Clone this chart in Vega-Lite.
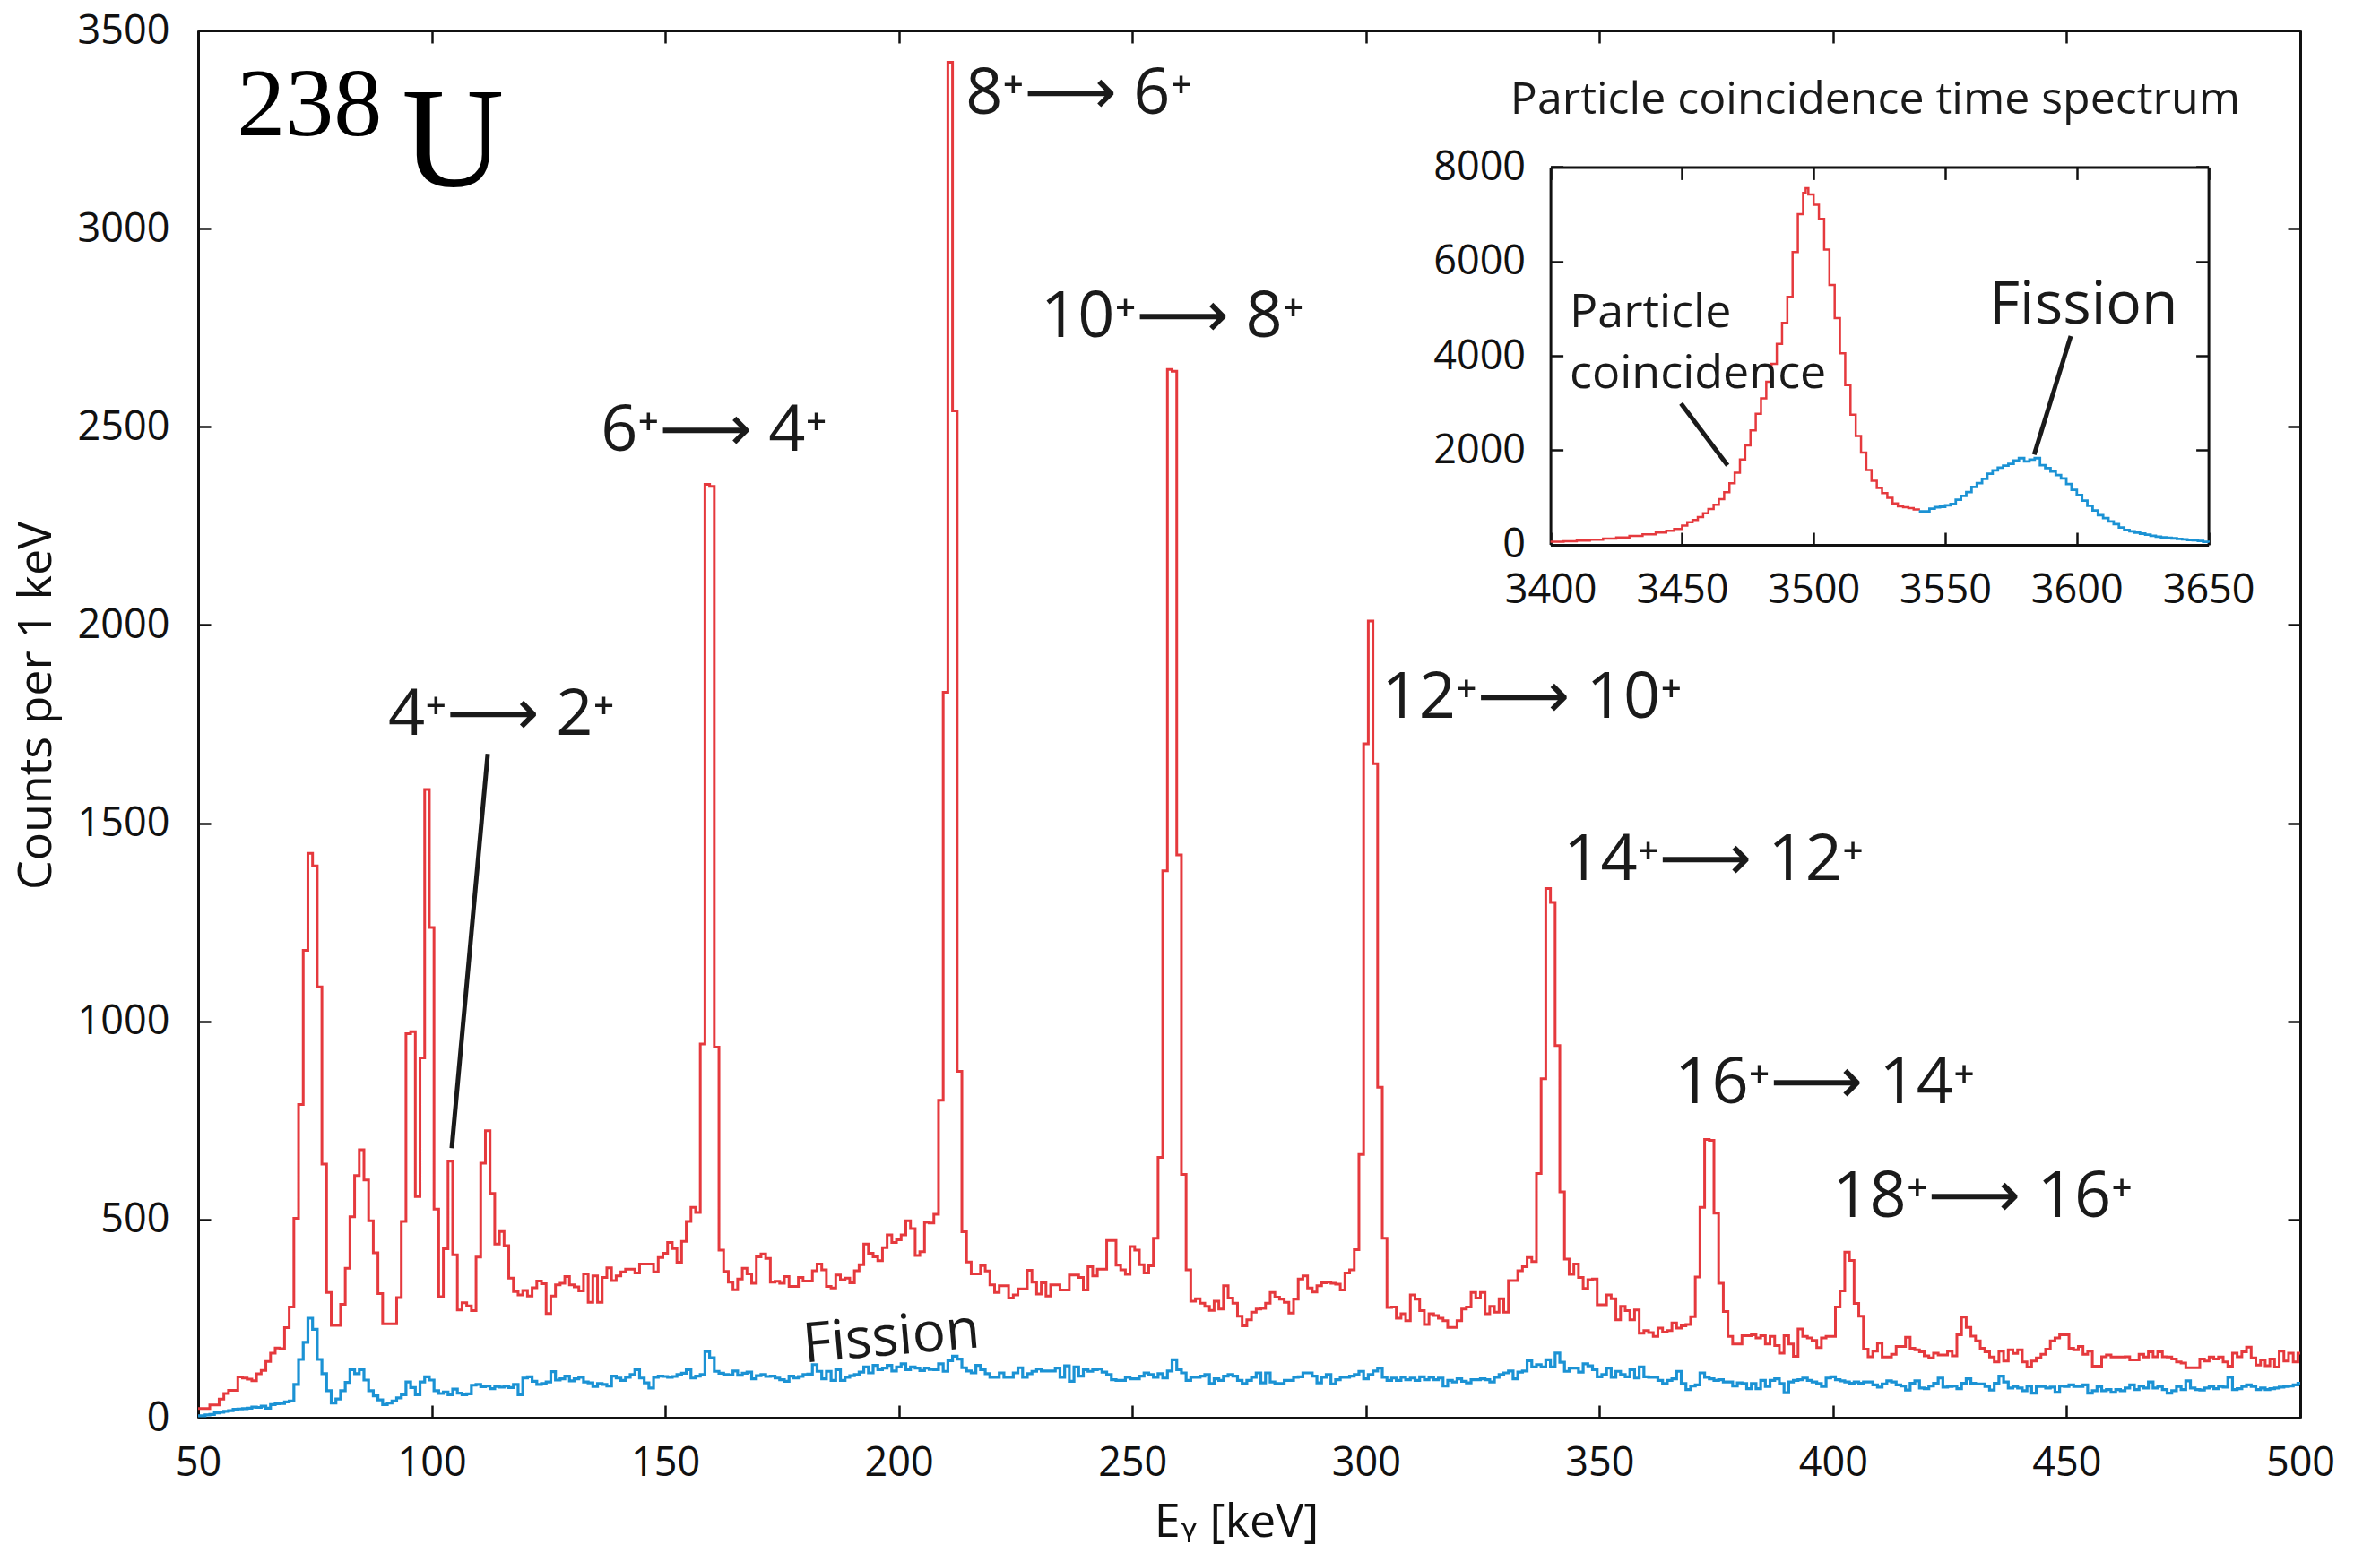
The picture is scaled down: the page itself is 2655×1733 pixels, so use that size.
{
"$schema": "https://vega.github.io/schema/vega-lite/v6.json",
"autosize": {"type": "none"},
"padding": {"left": 221, "top": 34, "right": 89, "bottom": 151},
"width": 2345, "height": 1548,
"background": "white",
"config": {
 "view": {"stroke": null},
 "axis": {"labelFont": "Open Sans, DejaVu Sans", "titleFont": "Open Sans, DejaVu Sans", "labelFontSize": 45, "titleFontSize": 52, "titleFontWeight": "normal", "labelColor": "#111", "titleColor": "#111", "domainColor": "#111", "tickColor": "#111", "domainWidth": 3, "tickWidth": 2.5, "grid": false, "tickSize": -14, "labelFlush": false, "labelOverlap": false, "labelBound": false, "format": "d"}
},
"datasets": {
"main": [
{"e":49.5,"r":23,"f":5},{"e":50.5,"r":23,"f":5},{"e":51.5,"r":23,"f":7},{"e":52.5,"r":32,"f":8},{"e":53.5,"r":32,"f":12},{"e":54.5,"r":47,"f":14},{"e":55.5,"r":61,"f":16},{"e":56.5,"r":69,"f":18},{"e":57.5,"r":69,"f":21},{"e":58.5,"r":103,"f":22},
{"e":59.5,"r":100,"f":23},{"e":60.5,"r":97,"f":24},{"e":61.5,"r":93,"f":27},{"e":62.5,"r":111,"f":26},{"e":63.5,"r":119,"f":29},{"e":64.5,"r":142,"f":24},{"e":65.5,"r":163,"f":33},{"e":66.5,"r":176,"f":35},{"e":67.5,"r":174,"f":36},{"e":68.5,"r":227,"f":40},
{"e":69.5,"r":279,"f":42},{"e":70.5,"r":503,"f":84},{"e":71.5,"r":790,"f":147},{"e":72.5,"r":1179,"f":190},{"e":73.5,"r":1424,"f":251},{"e":74.5,"r":1392,"f":223},{"e":75.5,"r":1087,"f":147},{"e":76.5,"r":640,"f":111},{"e":77.5,"r":316,"f":68},{"e":78.5,"r":233,"f":37},
{"e":79.5,"r":233,"f":47},{"e":80.5,"r":286,"f":68},{"e":81.5,"r":377,"f":89},{"e":82.5,"r":507,"f":121},{"e":83.5,"r":611,"f":111},{"e":84.5,"r":676,"f":121},{"e":85.5,"r":600,"f":95},{"e":86.5,"r":497,"f":68},{"e":87.5,"r":416,"f":55},{"e":88.5,"r":313,"f":45},
{"e":89.5,"r":237,"f":33},{"e":90.5,"r":237,"f":37},{"e":91.5,"r":237,"f":42},{"e":92.5,"r":303,"f":50},{"e":93.5,"r":495,"f":58},{"e":94.5,"r":969,"f":90},{"e":95.5,"r":974,"f":76},{"e":96.5,"r":558,"f":58},{"e":97.5,"r":908,"f":90},{"e":98.5,"r":1585,"f":103},
{"e":99.5,"r":1237,"f":95},{"e":100.5,"r":526,"f":68},{"e":101.5,"r":305,"f":61},{"e":102.5,"r":426,"f":65},{"e":103.5,"r":647,"f":58},{"e":104.5,"r":411,"f":72},{"e":105.5,"r":272,"f":62},{"e":106.5,"r":290,"f":58},{"e":107.5,"r":282,"f":60},{"e":108.5,"r":270,"f":82},
{"e":109.5,"r":405,"f":84},{"e":110.5,"r":642,"f":78},{"e":111.5,"r":724,"f":80},{"e":112.5,"r":566,"f":73},{"e":113.5,"r":438,"f":79},{"e":114.5,"r":470,"f":77},{"e":115.5,"r":434,"f":80},{"e":116.5,"r":352,"f":76},{"e":117.5,"r":318,"f":84},{"e":118.5,"r":310,"f":58},
{"e":119.5,"r":321,"f":100},{"e":120.5,"r":307,"f":103},{"e":121.5,"r":328,"f":92},{"e":122.5,"r":345,"f":84},{"e":123.5,"r":338,"f":86},{"e":124.5,"r":263,"f":90},{"e":125.5,"r":307,"f":116},{"e":126.5,"r":335,"f":95},{"e":127.5,"r":339,"f":98},{"e":128.5,"r":356,"f":105},
{"e":129.5,"r":335,"f":93},{"e":130.5,"r":330,"f":98},{"e":131.5,"r":320,"f":102},{"e":132.5,"r":363,"f":90},{"e":133.5,"r":291,"f":88},{"e":134.5,"r":358,"f":79},{"e":135.5,"r":291,"f":86},{"e":136.5,"r":354,"f":84},{"e":137.5,"r":378,"f":80},{"e":138.5,"r":346,"f":105},
{"e":139.5,"r":358,"f":100},{"e":140.5,"r":368,"f":94},{"e":141.5,"r":375,"f":102},{"e":142.5,"r":375,"f":109},{"e":143.5,"r":365,"f":121},{"e":144.5,"r":388,"f":100},{"e":145.5,"r":388,"f":88},{"e":146.5,"r":388,"f":75},{"e":147.5,"r":368,"f":102},{"e":148.5,"r":404,"f":105},
{"e":149.5,"r":415,"f":104},{"e":150.5,"r":442,"f":102},{"e":151.5,"r":427,"f":104},{"e":152.5,"r":392,"f":109},{"e":153.5,"r":445,"f":112},{"e":154.5,"r":495,"f":121},{"e":155.5,"r":531,"f":100},{"e":156.5,"r":518,"f":105},{"e":157.5,"r":943,"f":109},{"e":158.5,"r":2355,"f":167},
{"e":159.5,"r":2350,"f":151},{"e":160.5,"r":935,"f":117},{"e":161.5,"r":423,"f":112},{"e":162.5,"r":369,"f":109},{"e":163.5,"r":342,"f":108},{"e":164.5,"r":323,"f":118},{"e":165.5,"r":350,"f":107},{"e":166.5,"r":377,"f":112},{"e":167.5,"r":363,"f":115},{"e":168.5,"r":339,"f":98},
{"e":169.5,"r":406,"f":106},{"e":170.5,"r":413,"f":109},{"e":171.5,"r":402,"f":104},{"e":172.5,"r":342,"f":105},{"e":173.5,"r":344,"f":100},{"e":174.5,"r":339,"f":96},{"e":175.5,"r":356,"f":92},{"e":176.5,"r":331,"f":105},{"e":177.5,"r":331,"f":100},{"e":178.5,"r":354,"f":104},
{"e":179.5,"r":345,"f":109},{"e":180.5,"r":345,"f":110},{"e":181.5,"r":371,"f":134},{"e":182.5,"r":388,"f":117},{"e":183.5,"r":373,"f":98},{"e":184.5,"r":331,"f":117},{"e":185.5,"r":327,"f":94},{"e":186.5,"r":360,"f":121},{"e":187.5,"r":348,"f":94},{"e":188.5,"r":352,"f":102},
{"e":189.5,"r":340,"f":106},{"e":190.5,"r":371,"f":109},{"e":191.5,"r":386,"f":115},{"e":192.5,"r":438,"f":128},{"e":193.5,"r":415,"f":113},{"e":194.5,"r":406,"f":132},{"e":195.5,"r":396,"f":121},{"e":196.5,"r":429,"f":125},{"e":197.5,"r":461,"f":132},{"e":198.5,"r":442,"f":118},
{"e":199.5,"r":449,"f":128},{"e":200.5,"r":461,"f":136},{"e":201.5,"r":497,"f":121},{"e":202.5,"r":477,"f":128},{"e":203.5,"r":409,"f":125},{"e":204.5,"r":419,"f":119},{"e":205.5,"r":493,"f":125},{"e":206.5,"r":491,"f":122},{"e":207.5,"r":513,"f":121},{"e":208.5,"r":801,"f":136},
{"e":209.5,"r":1830,"f":117},{"e":210.5,"r":3420,"f":144},{"e":211.5,"r":2540,"f":155},{"e":212.5,"r":874,"f":148},{"e":213.5,"r":469,"f":126},{"e":214.5,"r":393,"f":118},{"e":215.5,"r":363,"f":113},{"e":216.5,"r":363,"f":132},{"e":217.5,"r":384,"f":121},{"e":218.5,"r":370,"f":111},
{"e":219.5,"r":335,"f":102},{"e":220.5,"r":316,"f":102},{"e":221.5,"r":333,"f":113},{"e":222.5,"r":333,"f":102},{"e":223.5,"r":302,"f":102},{"e":224.5,"r":310,"f":113},{"e":225.5,"r":325,"f":126},{"e":226.5,"r":325,"f":102},{"e":227.5,"r":372,"f":111},{"e":228.5,"r":342,"f":117},
{"e":229.5,"r":312,"f":123},{"e":230.5,"r":340,"f":118},{"e":231.5,"r":307,"f":118},{"e":232.5,"r":335,"f":118},{"e":233.5,"r":335,"f":125},{"e":234.5,"r":322,"f":102},{"e":235.5,"r":322,"f":131},{"e":236.5,"r":360,"f":92},{"e":237.5,"r":360,"f":128},{"e":238.5,"r":354,"f":105},
{"e":239.5,"r":322,"f":121},{"e":240.5,"r":381,"f":117},{"e":241.5,"r":358,"f":121},{"e":242.5,"r":375,"f":123},{"e":243.5,"r":375,"f":115},{"e":244.5,"r":447,"f":109},{"e":245.5,"r":447,"f":96},{"e":246.5,"r":385,"f":94},{"e":247.5,"r":373,"f":94},{"e":248.5,"r":362,"f":102},
{"e":249.5,"r":432,"f":98},{"e":250.5,"r":423,"f":98},{"e":251.5,"r":386,"f":105},{"e":252.5,"r":365,"f":113},{"e":253.5,"r":383,"f":109},{"e":254.5,"r":453,"f":102},{"e":255.5,"r":657,"f":111},{"e":256.5,"r":1380,"f":100},{"e":257.5,"r":2645,"f":118},{"e":258.5,"r":2640,"f":146},
{"e":259.5,"r":1420,"f":121},{"e":260.5,"r":614,"f":113},{"e":261.5,"r":373,"f":94},{"e":262.5,"r":294,"f":102},{"e":263.5,"r":300,"f":102},{"e":264.5,"r":289,"f":105},{"e":265.5,"r":281,"f":109},{"e":266.5,"r":271,"f":86},{"e":267.5,"r":294,"f":98},{"e":268.5,"r":274,"f":94},
{"e":269.5,"r":333,"f":105},{"e":270.5,"r":302,"f":109},{"e":271.5,"r":289,"f":105},{"e":272.5,"r":256,"f":94},{"e":273.5,"r":232,"f":86},{"e":274.5,"r":247,"f":94},{"e":275.5,"r":266,"f":102},{"e":276.5,"r":274,"f":113},{"e":277.5,"r":276,"f":88},{"e":278.5,"r":289,"f":113},
{"e":279.5,"r":316,"f":90},{"e":280.5,"r":304,"f":86},{"e":281.5,"r":299,"f":86},{"e":282.5,"r":291,"f":94},{"e":283.5,"r":264,"f":94},{"e":284.5,"r":299,"f":102},{"e":285.5,"r":350,"f":103},{"e":286.5,"r":358,"f":113},{"e":287.5,"r":327,"f":113},{"e":288.5,"r":317,"f":105},
{"e":289.5,"r":333,"f":88},{"e":290.5,"r":340,"f":102},{"e":291.5,"r":342,"f":109},{"e":292.5,"r":339,"f":85},{"e":293.5,"r":337,"f":96},{"e":294.5,"r":322,"f":102},{"e":295.5,"r":365,"f":102},{"e":296.5,"r":373,"f":105},{"e":297.5,"r":424,"f":109},{"e":298.5,"r":664,"f":117},
{"e":299.5,"r":1700,"f":98},{"e":300.5,"r":2010,"f":109},{"e":301.5,"r":1650,"f":118},{"e":302.5,"r":834,"f":125},{"e":303.5,"r":453,"f":102},{"e":304.5,"r":278,"f":94},{"e":305.5,"r":279,"f":100},{"e":306.5,"r":251,"f":94},{"e":307.5,"r":262,"f":102},{"e":308.5,"r":245,"f":96},
{"e":309.5,"r":310,"f":100},{"e":310.5,"r":299,"f":94},{"e":311.5,"r":270,"f":103},{"e":312.5,"r":235,"f":96},{"e":313.5,"r":262,"f":102},{"e":314.5,"r":258,"f":96},{"e":315.5,"r":251,"f":100},{"e":316.5,"r":245,"f":80},{"e":317.5,"r":228,"f":94},{"e":318.5,"r":228,"f":90},
{"e":319.5,"r":245,"f":98},{"e":320.5,"r":274,"f":92},{"e":321.5,"r":279,"f":88},{"e":322.5,"r":316,"f":96},{"e":323.5,"r":302,"f":96},{"e":324.5,"r":316,"f":98},{"e":325.5,"r":262,"f":96},{"e":326.5,"r":281,"f":90},{"e":327.5,"r":266,"f":102},{"e":328.5,"r":300,"f":109},
{"e":329.5,"r":266,"f":113},{"e":330.5,"r":346,"f":118},{"e":331.5,"r":346,"f":98},{"e":332.5,"r":371,"f":115},{"e":333.5,"r":381,"f":118},{"e":334.5,"r":404,"f":144},{"e":335.5,"r":394,"f":128},{"e":336.5,"r":616,"f":134},{"e":337.5,"r":855,"f":128},{"e":338.5,"r":1335,"f":146},
{"e":339.5,"r":1300,"f":128},{"e":340.5,"r":939,"f":163},{"e":341.5,"r":570,"f":140},{"e":342.5,"r":400,"f":117},{"e":343.5,"r":362,"f":125},{"e":344.5,"r":388,"f":125},{"e":345.5,"r":354,"f":115},{"e":346.5,"r":326,"f":136},{"e":347.5,"r":348,"f":131},{"e":348.5,"r":350,"f":121},
{"e":349.5,"r":285,"f":103},{"e":350.5,"r":285,"f":109},{"e":351.5,"r":310,"f":125},{"e":352.5,"r":300,"f":102},{"e":353.5,"r":247,"f":117},{"e":354.5,"r":281,"f":109},{"e":355.5,"r":270,"f":103},{"e":356.5,"r":247,"f":121},{"e":357.5,"r":272,"f":100},{"e":358.5,"r":213,"f":128},
{"e":359.5,"r":220,"f":103},{"e":360.5,"r":215,"f":102},{"e":361.5,"r":205,"f":102},{"e":362.5,"r":226,"f":94},{"e":363.5,"r":216,"f":86},{"e":364.5,"r":220,"f":94},{"e":365.5,"r":239,"f":98},{"e":366.5,"r":226,"f":117},{"e":367.5,"r":232,"f":86},{"e":368.5,"r":235,"f":71},
{"e":369.5,"r":255,"f":80},{"e":370.5,"r":355,"f":83},{"e":371.5,"r":531,"f":113},{"e":372.5,"r":702,"f":102},{"e":373.5,"r":700,"f":98},{"e":374.5,"r":516,"f":94},{"e":375.5,"r":339,"f":96},{"e":376.5,"r":268,"f":90},{"e":377.5,"r":205,"f":90},{"e":378.5,"r":186,"f":80},
{"e":379.5,"r":186,"f":88},{"e":380.5,"r":207,"f":86},{"e":381.5,"r":207,"f":73},{"e":382.5,"r":209,"f":86},{"e":383.5,"r":201,"f":73},{"e":384.5,"r":207,"f":94},{"e":385.5,"r":186,"f":79},{"e":386.5,"r":205,"f":94},{"e":387.5,"r":182,"f":98},{"e":388.5,"r":163,"f":86},
{"e":389.5,"r":207,"f":63},{"e":390.5,"r":186,"f":90},{"e":391.5,"r":155,"f":94},{"e":392.5,"r":224,"f":96},{"e":393.5,"r":205,"f":100},{"e":394.5,"r":201,"f":94},{"e":395.5,"r":195,"f":90},{"e":396.5,"r":177,"f":86},{"e":397.5,"r":201,"f":79},{"e":398.5,"r":205,"f":100},
{"e":399.5,"r":205,"f":103},{"e":400.5,"r":279,"f":96},{"e":401.5,"r":320,"f":93},{"e":402.5,"r":418,"f":90},{"e":403.5,"r":397,"f":87},{"e":404.5,"r":288,"f":90},{"e":405.5,"r":256,"f":87},{"e":406.5,"r":173,"f":90},{"e":407.5,"r":154,"f":90},{"e":408.5,"r":168,"f":83},
{"e":409.5,"r":188,"f":77},{"e":410.5,"r":153,"f":85},{"e":411.5,"r":153,"f":93},{"e":412.5,"r":160,"f":90},{"e":413.5,"r":180,"f":83},{"e":414.5,"r":180,"f":80},{"e":415.5,"r":203,"f":70},{"e":416.5,"r":175,"f":87},{"e":417.5,"r":171,"f":93},{"e":418.5,"r":166,"f":75},
{"e":419.5,"r":156,"f":73},{"e":420.5,"r":151,"f":80},{"e":421.5,"r":163,"f":87},{"e":422.5,"r":158,"f":100},{"e":423.5,"r":158,"f":77},{"e":424.5,"r":168,"f":79},{"e":425.5,"r":156,"f":80},{"e":426.5,"r":209,"f":73},{"e":427.5,"r":254,"f":87},{"e":428.5,"r":228,"f":98},
{"e":429.5,"r":206,"f":87},{"e":430.5,"r":194,"f":85},{"e":431.5,"r":175,"f":85},{"e":432.5,"r":166,"f":79},{"e":433.5,"r":153,"f":70},{"e":434.5,"r":141,"f":87},{"e":435.5,"r":168,"f":105},{"e":436.5,"r":143,"f":90},{"e":437.5,"r":171,"f":75},{"e":438.5,"r":162,"f":79},
{"e":439.5,"r":171,"f":75},{"e":440.5,"r":141,"f":68},{"e":441.5,"r":128,"f":80},{"e":442.5,"r":143,"f":62},{"e":443.5,"r":151,"f":79},{"e":444.5,"r":160,"f":79},{"e":445.5,"r":173,"f":75},{"e":446.5,"r":194,"f":77},{"e":447.5,"r":201,"f":64},{"e":448.5,"r":209,"f":80},
{"e":449.5,"r":209,"f":79},{"e":450.5,"r":175,"f":83},{"e":451.5,"r":171,"f":79},{"e":452.5,"r":180,"f":79},{"e":453.5,"r":160,"f":83},{"e":454.5,"r":168,"f":62},{"e":455.5,"r":130,"f":68},{"e":456.5,"r":130,"f":79},{"e":457.5,"r":154,"f":68},{"e":458.5,"r":158,"f":71},
{"e":459.5,"r":153,"f":64},{"e":460.5,"r":153,"f":71},{"e":461.5,"r":153,"f":68},{"e":462.5,"r":154,"f":75},{"e":463.5,"r":146,"f":83},{"e":464.5,"r":146,"f":71},{"e":465.5,"r":160,"f":80},{"e":466.5,"r":153,"f":75},{"e":467.5,"r":166,"f":90},{"e":468.5,"r":154,"f":75},
{"e":469.5,"r":166,"f":79},{"e":470.5,"r":154,"f":71},{"e":471.5,"r":153,"f":62},{"e":472.5,"r":148,"f":68},{"e":473.5,"r":141,"f":79},{"e":474.5,"r":138,"f":71},{"e":475.5,"r":126,"f":93},{"e":476.5,"r":126,"f":75},{"e":477.5,"r":126,"f":71},{"e":478.5,"r":148,"f":70},
{"e":479.5,"r":143,"f":75},{"e":480.5,"r":153,"f":79},{"e":481.5,"r":148,"f":73},{"e":482.5,"r":153,"f":79},{"e":483.5,"r":141,"f":77},{"e":484.5,"r":130,"f":102},{"e":485.5,"r":163,"f":71},{"e":486.5,"r":154,"f":73},{"e":487.5,"r":166,"f":79},{"e":488.5,"r":178,"f":83},
{"e":489.5,"r":151,"f":79},{"e":490.5,"r":133,"f":71},{"e":491.5,"r":146,"f":75},{"e":492.5,"r":131,"f":71},{"e":493.5,"r":148,"f":73},{"e":494.5,"r":128,"f":75},{"e":495.5,"r":168,"f":77},{"e":496.5,"r":143,"f":79},{"e":497.5,"r":163,"f":80},{"e":498.5,"r":141,"f":83},
{"e":499.5,"r":163,"f":87},{"e":500.5,"r":163,"f":87}
],
"insetR": [
{"t":3400,"c":60},{"t":3405,"c":70},{"t":3410,"c":85},{"t":3415,"c":100},{"t":3420,"c":125},{"t":3425,"c":150},{"t":3430,"c":180},{"t":3435,"c":215},{"t":3440,"c":255},{"t":3444,"c":290},
{"t":3447,"c":330},{"t":3450,"c":400},{"t":3452,"c":470},{"t":3454,"c":520},{"t":3456,"c":580},{"t":3458,"c":660},{"t":3460,"c":750},{"t":3462,"c":840},{"t":3464,"c":960},{"t":3466,"c":1110},
{"t":3468,"c":1300},{"t":3470,"c":1520},{"t":3472,"c":1800},{"t":3474,"c":2100},{"t":3476,"c":2420},{"t":3478,"c":2770},{"t":3480,"c":3100},{"t":3482,"c":3450},{"t":3484,"c":3830},{"t":3486,"c":4250},
{"t":3488,"c":4700},{"t":3490,"c":5250},{"t":3492,"c":6200},{"t":3494,"c":7000},{"t":3496,"c":7450},{"t":3497,"c":7550},{"t":3498,"c":7420},{"t":3500,"c":7200},{"t":3502,"c":6900},{"t":3504,"c":6250},
{"t":3506,"c":5500},{"t":3508,"c":4800},{"t":3510,"c":4050},{"t":3512,"c":3380},{"t":3514,"c":2750},{"t":3516,"c":2300},{"t":3518,"c":1950},{"t":3520,"c":1580},{"t":3522,"c":1350},{"t":3524,"c":1200},
{"t":3526,"c":1090},{"t":3528,"c":990},{"t":3530,"c":870},{"t":3532,"c":810},{"t":3534,"c":790},{"t":3536,"c":770},{"t":3538,"c":745},{"t":3540,"c":720}
],
"insetB": [
{"t":3540,"c":700},{"t":3542,"c":700},{"t":3544,"c":760},{"t":3546,"c":790},{"t":3548,"c":800},{"t":3550,"c":830},{"t":3552,"c":860},{"t":3554,"c":950},{"t":3556,"c":1030},{"t":3558,"c":1110},
{"t":3560,"c":1220},{"t":3562,"c":1300},{"t":3564,"c":1390},{"t":3566,"c":1500},{"t":3568,"c":1570},{"t":3570,"c":1630},{"t":3572,"c":1670},{"t":3574,"c":1710},{"t":3576,"c":1780},{"t":3578,"c":1830},
{"t":3580,"c":1760},{"t":3582,"c":1800},{"t":3584,"c":1830},{"t":3586,"c":1680},{"t":3588,"c":1620},{"t":3590,"c":1550},{"t":3592,"c":1470},{"t":3594,"c":1400},{"t":3596,"c":1280},{"t":3598,"c":1160},
{"t":3600,"c":1050},{"t":3602,"c":930},{"t":3604,"c":820},{"t":3606,"c":720},{"t":3608,"c":620},{"t":3610,"c":560},{"t":3612,"c":490},{"t":3614,"c":430},{"t":3616,"c":360},{"t":3618,"c":310},
{"t":3620,"c":280},{"t":3622,"c":250},{"t":3624,"c":230},{"t":3626,"c":210},{"t":3628,"c":185},{"t":3630,"c":165},{"t":3632,"c":150},{"t":3634,"c":140},{"t":3636,"c":130},{"t":3638,"c":120},
{"t":3640,"c":110},{"t":3642,"c":95},{"t":3644,"c":90},{"t":3646,"c":75},{"t":3648,"c":55},{"t":3650,"c":40}
],
"trans": [
{"x":90.7,"y":1722,"t":"4⁺⟶ 2⁺"},
{"x":136.2,"y":2439,"t":"6⁺⟶ 4⁺"},
{"x":214.3,"y":3289,"t":"8⁺⟶ 6⁺"},
{"x":230.4,"y":2726,"t":"10⁺⟶ 8⁺"},
{"x":303.4,"y":1766,"t":"12⁺⟶ 10⁺"},
{"x":342.3,"y":1356,"t":"14⁺⟶ 12⁺"},
{"x":366.1,"y":793,"t":"16⁺⟶ 14⁺"},
{"x":399.9,"y":506,"t":"18⁺⟶ 16⁺"}
],
"mainRule": [{"x":112.0,"y":1675,"x2":104.3,"y2":680}],
"insetRule": [{"x":3449.6,"y":2990,"x2":3467.3,"y2":1676},{"x":3597.7,"y":4419,"x2":3583.8,"y2":1905}],
"insetText": [{"x":3407.3,"y":4608,"t":"Particle"},{"x":3407.3,"y":3316,"t":"coincidence"}]
},
"layer": [
{"data":{"name":"main"},"mark":{"type":"line","interpolate":"step-after","color":"#e5393d","strokeWidth":3,"clip":true},
 "encoding":{
  "x":{"field":"e","type":"quantitative","scale":{"domain":[50,500],"nice":false,"zero":false},
       "axis":{"orient":"bottom","values":[50,100,150,200,250,300,350,400,450,500],"labelPadding":42,"title":"Eᵧ [keV]","titleX":1158,"titleY":132,"titleBaseline":"alphabetic"}},
  "y":{"field":"r","type":"quantitative","scale":{"domain":[0,3500],"nice":false},
       "axis":{"orient":"left","values":[0,500,1000,1500,2000,2500,3000,3500],"labelPadding":46,"title":"Counts per 1 keV","titleX":-165,"titleY":753,"titleAngle":270,"titleBaseline":"alphabetic","titleAlign":"center"}}
 }},
{"data":{"name":"main"},"mark":{"type":"line","interpolate":"step-after","color":"#1b92d4","strokeWidth":3.2,"clip":true},
 "encoding":{
  "x":{"field":"e","type":"quantitative","scale":{"domain":[50,500],"nice":false,"zero":false},
       "axis":{"orient":"top","values":[50,100,150,200,250,300,350,400,450,500],"labels":false,"title":null}},
  "y":{"field":"f","type":"quantitative","scale":{"domain":[0,3500],"nice":false},
       "axis":{"orient":"right","values":[0,500,1000,1500,2000,2500,3000,3500],"labels":false,"title":null}}
 }},
{"data":{"name":"trans"},"mark":{"type":"text","align":"left","baseline":"alphabetic","font":"Open Sans, DejaVu Sans","fontSize":72,"color":"#1a1a1a"},
 "encoding":{
  "x":{"field":"x","type":"quantitative","scale":{"domain":[50,500],"nice":false,"zero":false},"axis":null},
  "y":{"field":"y","type":"quantitative","scale":{"domain":[0,3500],"nice":false},"axis":null},
  "text":{"field":"t"}
 }},
{"data":{"values":[{"x":179.8,"y":139,"t":"Fission"}]},"mark":{"type":"text","align":"left","baseline":"alphabetic","font":"Open Sans","fontSize":62,"angle":355,"color":"#1a1a1a"},
 "encoding":{
  "x":{"field":"x","type":"quantitative","scale":{"domain":[50,500],"nice":false,"zero":false},"axis":null},
  "y":{"field":"y","type":"quantitative","scale":{"domain":[0,3500],"nice":false},"axis":null},
  "text":{"field":"t"}
 }},
{"data":{"values":[{"x":58.3,"y":3235,"t":"238"}]},"mark":{"type":"text","align":"left","baseline":"alphabetic","font":"Liberation Serif","fontSize":108,"color":"black"},
 "encoding":{
  "x":{"field":"x","type":"quantitative","scale":{"domain":[50,500],"nice":false,"zero":false},"axis":null},
  "y":{"field":"y","type":"quantitative","scale":{"domain":[0,3500],"nice":false},"axis":null},
  "text":{"field":"t"}
 }},
{"data":{"values":[{"x":93.6,"y":3109,"t":"U"}]},"mark":{"type":"text","align":"left","baseline":"alphabetic","font":"Liberation Serif","fontSize":158,"color":"black"},
 "encoding":{
  "x":{"field":"x","type":"quantitative","scale":{"domain":[50,500],"nice":false,"zero":false},"axis":null},
  "y":{"field":"y","type":"quantitative","scale":{"domain":[0,3500],"nice":false},"axis":null},
  "text":{"field":"t"}
 }},
{"data":{"name":"mainRule"},"mark":{"type":"rule","color":"#1a1a1a","strokeWidth":5},
 "encoding":{
  "x":{"field":"x","type":"quantitative","scale":{"domain":[50,500],"nice":false,"zero":false},"axis":null},
  "y":{"field":"y","type":"quantitative","scale":{"domain":[0,3500],"nice":false},"axis":null},
  "x2":{"field":"x2"},"y2":{"field":"y2"}
 }},
{"data":{"name":"insetR"},"mark":{"type":"line","interpolate":"step-after","color":"#e5393d","strokeWidth":2.5},
 "encoding":{
  "x":{"field":"t","type":"quantitative","scale":{"domain":[3400,3650],"nice":false,"zero":false,"range":[1508.6,2242.6]},
       "axis":{"orient":"bottom","offset":-974,"values":[3400,3450,3500,3550,3600,3650],"labelPadding":42,"title":null}},
  "y":{"field":"c","type":"quantitative","scale":{"domain":[0,8000],"nice":false,"range":[573.6,152.4]},
       "axis":{"orient":"left","offset":-1508.6,"values":[0,2000,4000,6000,8000],"labelPadding":42,"title":null}}
 }},
{"data":{"name":"insetB"},"mark":{"type":"line","interpolate":"step-after","color":"#1b92d4","strokeWidth":2.8},
 "encoding":{
  "x":{"field":"t","type":"quantitative","scale":{"domain":[3400,3650],"nice":false,"zero":false,"range":[1508.6,2242.6]},
       "axis":{"orient":"top","offset":-152.4,"values":[3400,3450,3500,3550,3600,3650],"labels":false,"title":null}},
  "y":{"field":"c","type":"quantitative","scale":{"domain":[0,8000],"nice":false,"range":[573.6,152.4]},
       "axis":{"orient":"right","offset":-102.4,"values":[0,2000,4000,6000,8000],"labels":false,"title":null}}
 }},
{"data":{"values":[{"x":3523.4,"y":9128,"t":"Particle coincidence time spectrum"}]},"mark":{"type":"text","align":"center","baseline":"alphabetic","font":"Open Sans","fontSize":50,"color":"#1a1a1a"},
 "encoding":{
  "x":{"field":"x","type":"quantitative","scale":{"domain":[3400,3650],"nice":false,"zero":false,"range":[1508.6,2242.6]},"axis":null},
  "y":{"field":"y","type":"quantitative","scale":{"domain":[0,8000],"nice":false,"range":[573.6,152.4]},"axis":null},
  "text":{"field":"t"}
 }},
{"data":{"name":"insetText"},"mark":{"type":"text","align":"left","baseline":"alphabetic","font":"Open Sans","fontSize":52,"color":"#1a1a1a"},
 "encoding":{
  "x":{"field":"x","type":"quantitative","scale":{"domain":[3400,3650],"nice":false,"zero":false,"range":[1508.6,2242.6]},"axis":null},
  "y":{"field":"y","type":"quantitative","scale":{"domain":[0,8000],"nice":false,"range":[573.6,152.4]},"axis":null},
  "text":{"field":"t"}
 }},
{"data":{"values":[{"x":3566.7,"y":4684,"t":"Fission"}]},"mark":{"type":"text","align":"left","baseline":"alphabetic","font":"Open Sans","fontSize":66,"color":"#1a1a1a"},
 "encoding":{
  "x":{"field":"x","type":"quantitative","scale":{"domain":[3400,3650],"nice":false,"zero":false,"range":[1508.6,2242.6]},"axis":null},
  "y":{"field":"y","type":"quantitative","scale":{"domain":[0,8000],"nice":false,"range":[573.6,152.4]},"axis":null},
  "text":{"field":"t"}
 }},
{"data":{"name":"insetRule"},"mark":{"type":"rule","color":"#1a1a1a","strokeWidth":5},
 "encoding":{
  "x":{"field":"x","type":"quantitative","scale":{"domain":[3400,3650],"nice":false,"zero":false,"range":[1508.6,2242.6]},"axis":null},
  "y":{"field":"y","type":"quantitative","scale":{"domain":[0,8000],"nice":false,"range":[573.6,152.4]},"axis":null},
  "x2":{"field":"x2"},"y2":{"field":"y2"}
 }}
],
"resolve": {"scale": {"x": "independent", "y": "independent"}, "axis": {"x": "independent", "y": "independent"}}
}
